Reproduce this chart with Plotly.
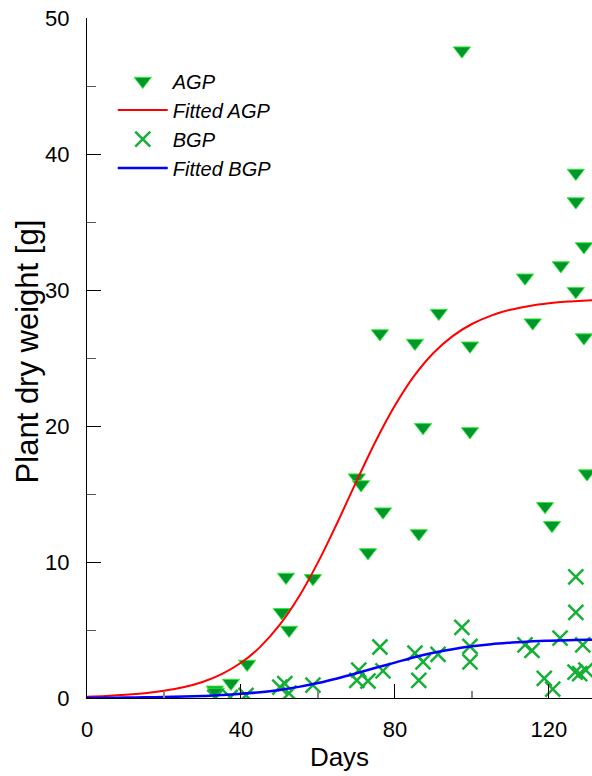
import plotly.graph_objects as go

# ---- data ----
agp_days = [33.2, 33.5, 37.4, 41.6, 50.6, 51.7, 52.5, 58.7, 70.1, 71.2, 73.0, 76.1,
            76.9, 85.2, 86.2, 87.3, 91.4, 97.4, 99.5, 99.5, 113.8, 115.8, 119.0,
            120.8, 123.1, 127.0, 127.0, 127.0, 129.1, 129.1, 129.9]
agp_weight = [0.6, 0.45, 1.1, 2.5, 6.3, 8.9, 5.0, 8.8, 16.2, 15.7, 10.7, 26.8,
              13.7, 26.1, 12.1, 19.9, 28.3, 47.6, 25.9, 19.6, 30.9, 27.6, 14.1,
              12.7, 31.8, 38.6, 36.5, 29.9, 33.2, 26.5, 16.5]

bgp_days = [33.2, 37.2, 41.3, 50.1, 51.4, 52.5, 58.7, 70.1, 70.6, 73.0, 76.1, 76.9,
            85.2, 86.2, 87.3, 91.2, 97.4, 99.5, 99.5, 113.8, 115.6, 118.8, 121.0,
            122.9, 126.8, 127.0, 127.0, 128.0, 128.8, 129.6]
bgp_weight = [0.05, 0.05, 0.2, 0.8, 1.05, 0.35, 0.95, 1.3, 2.05, 1.25, 3.75, 2.0,
              3.3, 1.3, 2.65, 3.2, 5.2, 3.8, 2.65, 3.9, 3.5, 1.45, 0.65,
              4.4, 1.9, 6.3, 8.9, 1.8, 3.9, 2.05]

fit_days = [0, 5, 10, 15, 20, 25, 30, 35, 40, 45, 50, 55, 60, 65, 70, 75, 80,
            85, 90, 95, 100, 105, 110, 115, 120, 125, 130, 132]
agp_fit = [0.10, 0.15, 0.23, 0.35, 0.53, 0.79, 1.18, 1.76, 2.59, 3.76, 5.35, 7.42,
           9.97, 12.87, 15.93, 18.88, 21.5, 23.68, 25.37, 26.61, 27.5, 28.12,
           28.55, 28.83, 29.02, 29.15, 29.23, 29.26]
bgp_fit = [0.016, 0.023, 0.033, 0.049, 0.071, 0.103, 0.147, 0.212, 0.304, 0.426,
           0.596, 0.818, 1.1, 1.44, 1.82, 2.22, 2.6, 3.0, 3.33, 3.59, 3.8, 3.96,
           4.07, 4.16, 4.21, 4.25, 4.28, 4.29]

x_ticks = [0, 40, 80, 120]
x_minor = [20, 60, 100]
y_ticks = [0, 10, 20, 30, 40, 50]

NARROW = "Liberation Sans Narrow, Arial Narrow, Liberation Sans, Arial, sans-serif"
SANS = "Liberation Sans, Arial, sans-serif"

fig = go.Figure()
fig.add_trace(go.Scatter(
    x=agp_days, y=agp_weight, mode="markers", name="AGP", legendgroup="a",
    marker=dict(symbol="triangle-down", size=15, color="#00962d",
                line=dict(color="#33ee33", width=1))))
fig.add_trace(go.Scatter(
    x=fit_days, y=agp_fit, mode="lines", name="Fitted AGP", legendgroup="b",
    line=dict(color="#ff0000", width=2, shape="spline")))
fig.add_trace(go.Scatter(
    x=bgp_days, y=bgp_weight, mode="markers", name="BGP", legendgroup="c",
    marker=dict(symbol="x-thin", size=15, color="#15b035",
                line=dict(color="#15b035", width=2.5))))
fig.add_trace(go.Scatter(
    x=fit_days, y=bgp_fit, mode="lines", name="Fitted BGP", legendgroup="d",
    line=dict(color="#0000ff", width=2.5, shape="spline")))

XR = [0, 131.2]
YR = [0, 50]

fig.update_layout(
    width=592, height=776,
    margin=dict(l=87, r=0, t=18, b=78),
    paper_bgcolor="white", plot_bgcolor="white",
    showlegend=True,
    legend=dict(x=0.051, y=0.936, xanchor="left", yanchor="top",
                bgcolor="rgba(0,0,0,0)", tracegroupgap=0,
                font=dict(family=SANS, size=20, color="black", style="italic"),
                itemwidth=50),
    xaxis=dict(range=XR, tickvals=x_ticks, ticks="inside", ticklen=14,
               tickcolor="black", tickwidth=1, showline=True, linecolor="black",
               linewidth=1, showgrid=False, zeroline=False,
               minor=dict(tickvals=x_minor, ticks="inside", ticklen=7,
                          tickcolor="#888888", tickwidth=2, showgrid=False),
               tickfont=dict(family=NARROW, size=22, color="black"),
               ticklabelstandoff=12,
               title=dict(text="Days", font=dict(family=SANS, size=26, color="black"),
                          standoff=6)),
    xaxis2=dict(range=XR, overlaying="x", side="top", tickvals=x_ticks,
                ticks="inside", ticklen=14, tickcolor="black", showline=True,
                linecolor="#666666", linewidth=1, showgrid=False, zeroline=False,
                showticklabels=False,
                minor=dict(tickvals=x_minor, ticks="inside", ticklen=8,
                           tickcolor="#888888", tickwidth=2, showgrid=False)),
    yaxis=dict(range=YR, tickvals=y_ticks, ticks="inside", ticklen=14,
               tickcolor="black", showline=True, linecolor="black", linewidth=1,
               showgrid=False, zeroline=False,
               minor=dict(dtick=5, tick0=0, ticks="inside", ticklen=9,
                          tickcolor="#555555", showgrid=False),
               tickfont=dict(family=NARROW, size=22, color="black"),
               ticklabelstandoff=12),
    yaxis2=dict(range=YR, overlaying="y", side="right", tickvals=y_ticks,
                ticks="inside", ticklen=10, tickcolor="black", showline=False,
                showgrid=False, zeroline=False, showticklabels=False,
                minor=dict(dtick=5, tick0=0, ticks="inside", ticklen=5,
                           tickcolor="#555555", showgrid=False)),
    annotations=[dict(text="Plant dry weight [g]", textangle=-90,
                      xref="paper", yref="paper", x=-0.1178, y=0.509,
                      xanchor="center", yanchor="middle", showarrow=False,
                      font=dict(family=SANS, size=31, color="black"))],
)

fig.write_html("out.html")
